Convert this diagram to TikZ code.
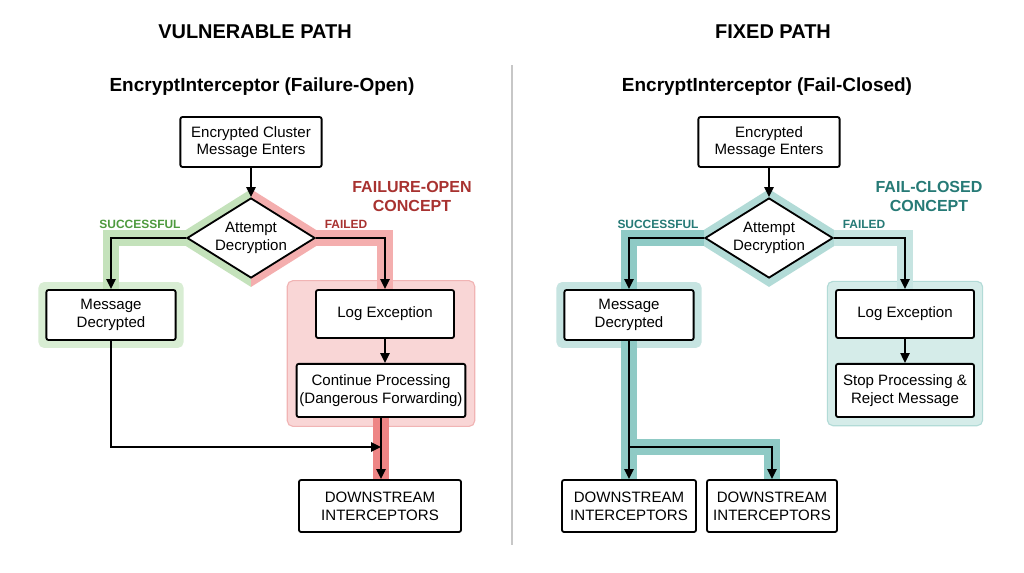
\documentclass[tikz,border=0pt]{standalone}
\usepackage{fontspec}
\setmainfont{Liberation Sans}
\usetikzlibrary{arrows.meta,positioning,shapes.geometric,fit,backgrounds,calc}

\definecolor{okgreen}{HTML}{4E9A3E}
\definecolor{glowgreen}{HTML}{C4E2BB}
\definecolor{boxgreen}{HTML}{D8EDD3}
\definecolor{badred}{HTML}{A83230}
\definecolor{glowred}{HTML}{F4AEAE}
\definecolor{deepred}{HTML}{EE8585}
\definecolor{boxred}{HTML}{F9D6D6}
\definecolor{edgered}{HTML}{F1B4B4}
\definecolor{safeteal}{HTML}{267A76}
\definecolor{glowteal}{HTML}{8FCAC5}
\definecolor{paleteal}{HTML}{C6E4E1}
\definecolor{boxteal}{HTML}{D5ECE9}
\definecolor{edgeteal}{HTML}{B2DBD7}

\newcommand{\boxfont}{\fontsize{10.7}{12.6}\selectfont}
\newcommand{\headfont}{\fontsize{14.2}{17}\selectfont}
\newcommand{\subheadfont}{\fontsize{13.5}{16}\selectfont}
\newcommand{\tagfont}{\fontsize{8.5}{10}\selectfont}
\newcommand{\conceptfont}{\fontsize{11.4}{13.5}\selectfont}

\begin{document}
\begin{tikzpicture}[x=0.025cm, y=-0.025cm,
    flowbox/.style={draw, line width=1.3pt, rounded corners=1.5pt, fill=white, align=center, font=\boxfont, inner sep=2pt},
    decision/.style={diamond, draw, line width=1.3pt, fill=white, align=center, font=\boxfont, aspect=1.6, inner sep=0pt, minimum width=3.2cm, minimum height=2cm},
    arrow/.style={-{Triangle[length=7pt,width=6.5pt]}, line width=1.3pt},
    glow/.style={line width=11pt},
    halo/.style={rounded corners=4pt, inner sep=5pt},
    tag/.style={font=\tagfont\bfseries},
    concept/.style={font=\conceptfont\bfseries, align=center},
    heading/.style={font=\headfont\bfseries},
    subheading/.style={font=\subheadfont\bfseries}
  ]
  \useasboundingbox (0,0) rectangle (1024,572);

  % titles
  \node[heading] (vulnT) at (255,32) {VULNERABLE PATH};
  \node[heading] (fixT) at (773,32) {FIXED PATH};
  \node[subheading] (vulnS) at (262,87) {EncryptInterceptor (Failure-Open)};
  \node[subheading] (fixS) at (767,87) {EncryptInterceptor (Fail-Closed)};
  \draw[black!22, line width=0.8pt] (512,65) -- (512,545);

  % vulnerable path
  \node[flowbox, minimum width=3.53cm, minimum height=1.25cm] (enterL) at (251,142) {Encrypted Cluster\\Message Enters};
  \node[decision] (tryL) at (251,238) {Attempt\\Decryption};
  \node[flowbox, minimum width=3.23cm, minimum height=1.25cm] (plainL) at (111,315) {Message\\Decrypted};
  \node[flowbox, minimum width=3.45cm, minimum height=1.2cm] (logL) at (385,314) {Log Exception};
  \node[flowbox, minimum width=4.03cm, minimum height=1.33cm, below=0.6cm of logL, xshift=-0.1cm] (contL) {Continue Processing\\(Dangerous Forwarding)};
  \node[flowbox, minimum width=4.05cm, minimum height=1.3cm] (downL) at (380,506) {DOWNSTREAM\\INTERCEPTORS};
  \coordinate (mergeL) at ($(contL.south)+(0,29)$);

  \node[tag, text=okgreen] (succL) at (140,224) {SUCCESSFUL};
  \node[tag, text=badred] (failL) at (346,224) {FAILED};
  \node[concept, text=badred] (openC) at (412,196) {FAILURE-OPEN\\CONCEPT};

  % fixed path
  \node[flowbox, minimum width=3.53cm, minimum height=1.25cm] (enterR) at (769,142) {Encrypted\\Message Enters};
  \node[decision] (tryR) at (769,238) {Attempt\\Decryption};
  \node[flowbox, minimum width=3.23cm, minimum height=1.25cm] (plainR) at (629,315) {Message\\Decrypted};
  \node[flowbox, minimum width=3.45cm, minimum height=1.2cm] (logR) at (905,314) {Log Exception};
  \node[flowbox, minimum width=3.45cm, minimum height=1.33cm, below=0.6cm of logR] (stopR) {Stop Processing \&\\Reject Message};
  \node[flowbox, minimum width=3.35cm, minimum height=1.3cm] (downRa) at (629,506) {DOWNSTREAM\\INTERCEPTORS};
  \node[flowbox, minimum width=3.25cm, minimum height=1.3cm] (downRb) at (772,506) {DOWNSTREAM\\INTERCEPTORS};
  \coordinate (splitR) at (629,447);

  \node[tag, text=safeteal] (succR) at (658,224) {SUCCESSFUL};
  \node[tag, text=safeteal] (failR) at (864,224) {FAILED};
  \node[concept, text=safeteal] (closedC) at (929,196) {FAIL-CLOSED\\CONCEPT};

  \begin{scope}[on background layer]
    \fill[white] (0,0) rectangle (1024,572);
    \node[halo, fill=boxgreen, fit=(plainL)] (plainLhalo) {};
    \node[halo, fill=boxred, draw=edgered, line width=0.8pt, inner sep=6pt, fit=(logL)(contL)] (failLhalo) {};
    \fill[glowgreen] ($(tryL.north)+(0,-8)$) -- ($(tryL.west)+(-13,0)$) -- ($(tryL.south)+(0,8)$) -- cycle;
    \fill[glowred] ($(tryL.north)+(0,-8)$) -- ($(tryL.east)+(13,0)$) -- ($(tryL.south)+(0,8)$) -- cycle;
    \draw[glow, glowgreen] (tryL.west) -| (plainL.north);
    \draw[glow, glowred] (tryL.east) -| (logL.north);
    \draw[glow, deepred, line width=12pt] (contL.south) -- (contL.south |- downL.north);

    \node[halo, fill=paleteal, fit=(plainR)] (plainRhalo) {};
    \node[halo, fill=boxteal, draw=edgeteal, line width=0.8pt, inner sep=5.5pt, fit=(logR)(stopR)] (failRhalo) {};
    \fill[edgeteal] ($(tryR.north)+(0,-8)$) -- ($(tryR.east)+(13,0)$) -- ($(tryR.south)+(0,8)$) -- ($(tryR.west)+(-13,0)$) -- cycle;
    \draw[glow, paleteal] (tryR.east) -| (logR.north);
    \draw[glow, glowteal] (tryR.west) -| (plainR.north);
    \draw[glow, glowteal] (plainR.south) -- (downRa.north);
    \draw[glow, glowteal] (splitR) -| (downRb.north);
  \end{scope}

  \draw[arrow] (enterL) -- (tryL);
  \draw[arrow] (tryL.west) -| (plainL.north);
  \draw[arrow] (tryL.east) -| (logL.north);
  \draw[arrow] (logL.south) -- (logL.south |- contL.north);
  \draw[arrow] (contL.south) -- (contL.south |- downL.north);
  \draw[arrow] (plainL.south) |- (mergeL);

  \draw[arrow] (enterR) -- (tryR);
  \draw[arrow] (tryR.west) -| (plainR.north);
  \draw[arrow] (tryR.east) -| (logR.north);
  \draw[arrow] (logR) -- (stopR);
  \draw[arrow] (plainR.south) -- (downRa.north);
  \draw[arrow] (splitR) -| (downRb.north);
\end{tikzpicture}
\end{document}
